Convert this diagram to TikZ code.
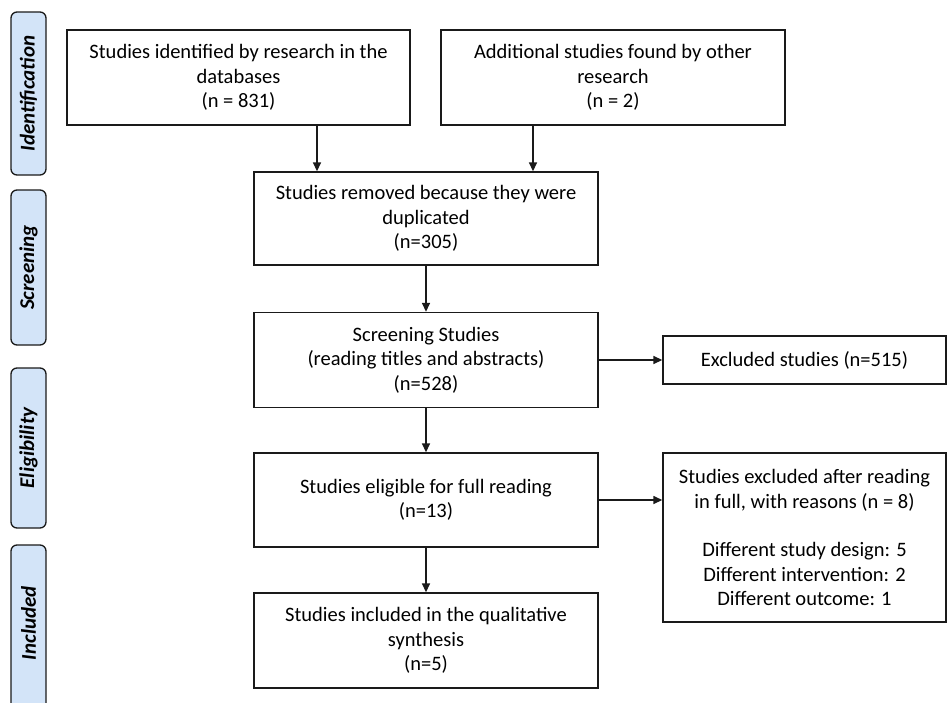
\documentclass[tikz,border=0pt]{standalone}
\usepackage{fontspec}
\setmainfont{Carlito}
\usetikzlibrary{arrows.meta}
\definecolor{barfill}{HTML}{D3E4F8}
\definecolor{linecol}{HTML}{1A1A1A}
\begin{document}
\begin{tikzpicture}[x=1pt,y=-1pt,
  box/.style={draw=linecol,line width=1.4pt,align=center,font=\fontsize{20.5}{24.5}\selectfont,inner sep=2pt},
  bar/.style={draw=linecol,line width=1.3pt,fill=barfill,rounded corners=6pt},
  barlabel/.style={rotate=90,font=\fontsize{21}{24}\selectfont\bfseries\itshape},
  arr/.style={line width=1.5pt,draw=linecol,-{Triangle[length=9pt,width=8pt]}}]
\useasboundingbox (0,0) rectangle (948,702);
\clip (0,0) rectangle (948,702);
% side bars
\draw[bar] (11,12) rectangle (46,175);
\node[barlabel] (lid) at (28.5,93.5) {Identification};
\draw[bar] (11,190) rectangle (46,345);
\node[barlabel] (lsc) at (28.5,267.5) {Screening};
\draw[bar] (11,368) rectangle (46,528);
\node[barlabel] (lel) at (28.5,448) {Eligibility};
\draw[bar] (11,545) rectangle (46,725);
\node[barlabel] (lin) at (28.5,623) {Included};
% boxes
\node[box,minimum width=343pt,minimum height=95pt] (b1) at (238.5,77.5) {Studies identified by research in the\\databases\\(n = 831)};
\node[box,minimum width=344pt,minimum height=95pt] (b2) at (613,77.5) {Additional studies found by other\\research\\(n = 2)};
\node[box,minimum width=344pt,minimum height=93pt] (b3) at (426,218.5) {Studies removed because they were\\duplicated\\(n=305)};
\node[box,minimum width=344pt,minimum height=95pt] (b4) at (426,360) {Screening Studies\\(reading titles and abstracts)\\(n=528)};
\node[box,minimum width=283pt,minimum height=48pt] (e1) at (804.5,360) {Excluded studies (n=515)};
\node[box,minimum width=344pt,minimum height=94pt] (b5) at (426,500) {Studies eligible for full reading\\(n=13)};
\node[box,minimum width=283pt,minimum height=169pt] (e2) at (804.5,537.5) {Studies excluded after reading\\in full, with reasons (n = 8)\\[24pt]Different study design: 5\\Different intervention: 2\\Different outcome: 1};
\node[box,minimum width=344pt,minimum height=95pt] (b6) at (426,640.5) {Studies included in the qualitative\\synthesis\\(n=5)};
% connectors
\draw[arr] ([xshift=78.5pt]b1.south) -- ([xshift=78.5pt]b1.south |- b3.north);
\draw[arr] ([xshift=-80pt]b2.south) -- ([xshift=-80pt]b2.south |- b3.north);
\draw[arr] (b3.south) -- (b4.north);
\draw[arr] (b4.east) -- (e1.west);
\draw[arr] (b4.south) -- (b5.north);
\draw[arr] (b5.east) -- (b5.east -| e2.west);
\draw[arr] (b5.south) -- (b6.north);
\end{tikzpicture}
\end{document}
